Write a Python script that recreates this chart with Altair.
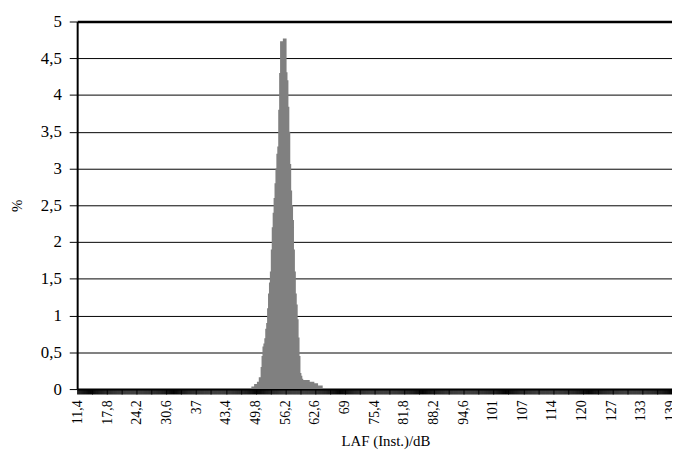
import altair as alt
import pandas as pd

# Histogram bins: LAF (Inst.) in dB, 0.2 dB classes starting at 11.4 dB
bin_start = 11.4
bin_step = 0.2
n_bins = 642
db_bins = [round(bin_start + bin_step * i, 1) for i in range(n_bins)]

# Non-zero part of the distribution (percent), starting at bin index 188 (49.0 dB)
peak_start_index = 188
peak_pct = [
    0.036, 0.036, 0.036, 0.07, 0.07, 0.07, 0.10, 0.10, 0.16, 0.16,
    0.30, 0.45, 0.58, 0.62, 0.69, 0.82, 0.90, 1.10, 1.30, 1.45,
    1.60, 1.90, 2.20, 2.40, 2.60, 2.80, 3.00, 3.20, 3.30, 3.80,
    4.30, 4.73, 4.73, 4.73, 4.77, 4.77, 4.77, 4.77, 4.31, 4.20,
    3.84, 3.50, 3.06, 2.70, 2.50, 2.30, 1.90, 1.60, 1.30, 1.15,
    0.95, 0.70, 0.45, 0.22, 0.18, 0.14, 0.125, 0.125, 0.125, 0.125,
    0.125, 0.125, 0.125, 0.10, 0.10, 0.10, 0.10, 0.10, 0.08, 0.08,
    0.08, 0.08, 0.05, 0.05, 0.05, 0.05, 0.05,
]

pct = [0.0] * n_bins
for k, v in enumerate(peak_pct):
    pct[peak_start_index + k] = v

y_ticks = [0, 0.5, 1, 1.5, 2, 2.5, 3, 3.5, 4, 4.5, 5]
label_every = 32

df = pd.DataFrame({"db": db_bins, "pct": pct})

FONT = "Liberation Serif"

label_expr = (
    f"round((datum.value - {bin_start}) / {bin_step}) % {label_every} === 0 "
    "? replace(format(datum.value, '.3~r'), '.', ',') : ''"
)

chart = alt.Chart(df).mark_area(
    color="#808080", interpolate="step", opacity=1
).encode(
    x=alt.X(
        "db:O",
        sort="ascending",
        scale=alt.Scale(paddingInner=0, paddingOuter=0),
        axis=alt.Axis(
            title="LAF (Inst.)/dB",
            titleFont=FONT,
            titleFontSize=15,
            titleFontWeight="normal",
            titleColor="black",
            titleX=312,
            titleY=57,
            titleBaseline="alphabetic",
            labelExpr=label_expr,
            labelAngle=-90,
            labelFont=FONT,
            labelFontSize=14,
            labelColor="black",
            labelOverlap=False,
            labelPadding=6,
            labelBound=False,
            labelFlush=False,
            ticks=True,
            tickSize=5,
            tickColor="black",
            tickWidth=1,
            domainColor="black",
            domainWidth=2,
            grid=False,
        ),
    ),
    y=alt.Y(
        "pct:Q",
        scale=alt.Scale(domain=[0, 5], nice=False),
        axis=alt.Axis(
            title="%",
            titleFont=FONT,
            titleFontSize=15,
            titleFontWeight="normal",
            titleColor="black",
            titleX=-61,
            titleY=186,
            titleBaseline="middle",
            titleAngle=270,
            values=y_ticks,
            labelExpr="replace(format(datum.value, '~g'), '.', ',')",
            labelFont=FONT,
            labelFontSize=17,
            labelColor="black",
            labelPadding=8,
            tickSize=8,
            tickColor="black",
            tickWidth=1,
            domainColor="black",
            domainWidth=2,
            grid=True,
            gridColor="black",
            gridWidth={"condition": {"test": "datum.value === 5", "value": 2.5}, "value": 1},
            gridOpacity=1,
        ),
    ),
).properties(
    width=602,
    height=372,
    autosize=alt.AutoSizeParams(type="none"),
    padding={"left": 70, "top": 11, "right": 0, "bottom": 60},
    background="white",
).configure_view(stroke=None)

chart.save("out.html", embed_options={"renderer": "svg", "actions": False})
